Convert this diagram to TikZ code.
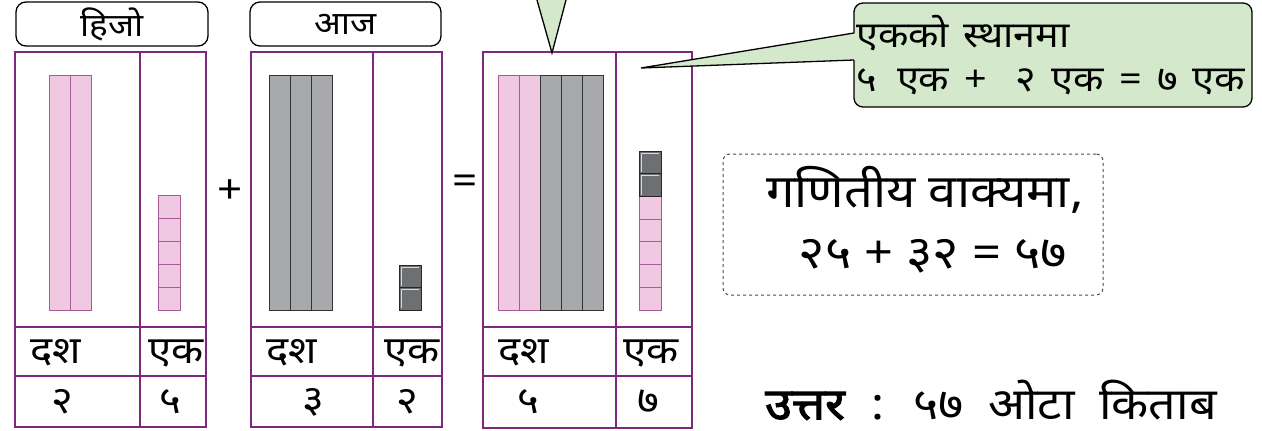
\documentclass[tikz,border=0pt]{standalone}
\usepackage{fontspec}
\setmainfont[Script=Devanagari, FakeStretch=1.1]{Noto Sans}
\newfontfamily\devbold[Script=Devanagari, FakeStretch=1.1, FakeBold=2.5]{Noto Sans}
\definecolor{frm}{RGB}{125,40,125}
\definecolor{pinkfill}{RGB}{240,200,225}
\definecolor{pinkedge}{RGB}{170,90,150}
\definecolor{rodgray}{RGB}{167,169,172}
\definecolor{cubegray}{RGB}{110,111,114}
\definecolor{callgreen}{RGB}{212,233,204}
\tikzset{
  frame/.style={draw=frm, line width=1.5pt},
  rowline/.style={draw=frm, line width=2pt},
  rodP/.style={draw=pinkedge, fill=pinkfill, line width=1pt},
  rodG/.style={draw=black!80, fill=rodgray, line width=1pt},
  cubeP/.style={draw=pinkedge, fill=pinkfill, line width=1pt},
  cubeG/.style={draw=black!85, fill=cubegray, line width=1pt},
  hdr/.style={draw=black, line width=1.3pt, rounded corners=10pt, inner sep=0pt, font=\fontsize{32}{36}\selectfont},
  cell/.style={inner sep=0pt, font=\fontsize{38}{42}\selectfont},
  sym/.style={inner sep=0pt, font=\fontsize{40}{44}\selectfont},
}
\begin{document}
\begin{tikzpicture}[x=1pt,y=-1pt]
\useasboundingbox (0,0) rectangle (1262,431);
% ---------- headers
\node[hdr, minimum width=192, minimum height=44] (h1) at (112,24) {हिजो};
\node[hdr, minimum width=191, minimum height=44] (h2) at (345.5,24) {आज};
% ---------- table 1
\draw[rodP] (49,75) rectangle (70,310);
\draw[rodP] (70,75) rectangle (91,310);
\foreach \i in {0,...,4} {\draw[cubeP] (158,{310-23*(\i+1)}) rectangle (180,{310-23*\i});}
\draw[frame] (15,52) rectangle (206,427);
\draw[frame] (140,52) -- (140,427);
\draw[rowline] (15,327) -- (206,327);
\draw[rowline] (15,376) -- (206,376);
\node[cell] (a1) at (56,353) {दश};
\node[cell] (a2) at (176,353) {एक};
\node[cell] (a3) at (62,402) {२};
\node[cell] (a4) at (170,402) {५};
% ---------- plus
\node[sym] (plus) at (230,192) {+};
% ---------- table 2
\foreach \i in {0,1,2} {\draw[rodG] ({269+21.33*\i},75) rectangle ({269+21.33*(\i+1)},310);}
\foreach \i in {0,1} {\draw[cubeG] (399,{310-22.5*(\i+1)}) rectangle (421,{310-22.5*\i});
  \draw[white!70!gray, line width=0.8pt] (401,{310-22.5*\i-2}) -- (401,{310-22.5*(\i+1)+2}) -- (419,{310-22.5*(\i+1)+2});}
\draw[frame] (251,52) rectangle (442,427);
\draw[frame] (373,52) -- (373,427);
\draw[rowline] (251,327) -- (442,327);
\draw[rowline] (251,376) -- (442,376);
\node[cell] (b1) at (292,353) {दश};
\node[cell] (b2) at (412,353) {एक};
\node[cell] (b3) at (313,402) {३};
\node[cell] (b4) at (407,402) {२};
% ---------- equals
\node[sym] (eq) at (465,185) {=};
% ---------- table 3
\foreach \i in {0,1} {\draw[rodP] ({498+21*\i},75) rectangle ({498+21*(\i+1)},310);}
\foreach \i in {2,3,4} {\draw[rodG] ({498+21*\i},75) rectangle ({498+21*(\i+1)},310);}
\foreach \i in {0,...,4} {\draw[cubeP] (639,{310-22.7*(\i+1)}) rectangle (661,{310-22.7*\i});}
\foreach \i in {5,6} {\draw[cubeG] (639,{310-22.7*(\i+1)}) rectangle (661,{310-22.7*\i});
  \draw[white!70!gray, line width=0.8pt] (641,{310-22.7*\i-2}) -- (641,{310-22.7*(\i+1)+2}) -- (659,{310-22.7*(\i+1)+2});}
\draw[frame] (483,52) rectangle (692,428);
\draw[frame] (616,52) -- (616,428);
\draw[rowline] (483,327) -- (692,327);
\draw[rowline] (483,376) -- (692,376);
\node[cell] (c1) at (524,353) {दश};
\node[cell] (c2) at (651,353) {एक};
\node[cell] (c3) at (528,402) {५};
\node[cell] (c4) at (648,402) {७};
% ---------- top tail (cut off)
\coordinate (tt) at (552,53);
\coordinate (tl) at (537,0);
\coordinate (tr) at (566,0);
\fill[callgreen] (tl) -- (tt) -- (tr) -- cycle;
\draw[line width=1.3pt, line join=miter] (tl) -- (tt) -- (tr);
% ---------- callout
\node[draw=black, line width=1.3pt, fill=callgreen, rounded corners=9pt, minimum width=398, minimum height=104, inner sep=0pt] (co) at (1053,55) {};
\coordinate (ctip) at (641,68);
\coordinate (cu) at (854,33);
\coordinate (cl) at (854,60);
\fill[callgreen] ([xshift=2pt]cu) -- (ctip) -- ([xshift=2pt]cl) -- cycle;
\draw[line width=1.3pt] (cu) -- (ctip) -- (cl);
\node[anchor=west, inner sep=0pt, font=\fontsize{36}{40}\selectfont] (co1) at (856,33) {एकको\hspace{4pt} स्थानमा};
\node[anchor=west, inner sep=0pt, font=\fontsize{36}{40}\selectfont] (co2) at (856,82) {५\hspace{10pt} एक\hspace{5pt} +\hspace{18pt} २\hspace{5pt} एक\hspace{5pt} =\hspace{5pt} ७\hspace{5pt} एक};
% ---------- dashed box
\node[draw=black!70, dashed, line width=1pt, rounded corners=7pt, minimum width=380, minimum height=141, inner sep=0pt] (db) at (913,224.5) {};
\node[inner sep=0pt, font=\fontsize{46}{50}\selectfont] (d1) at (925,190) {गणितीय वाक्यमा,};
\node[inner sep=0pt, font=\fontsize{46}{50}\selectfont] (d2) at (933,256) {२५ + ३२ = ५७};
% ---------- answer
\node[anchor=west, inner sep=0pt, font=\fontsize{44}{48}\selectfont] (ans) at (765,400) {{\devbold उत्तर}\hspace{14pt} :\hspace{12pt} ५७\hspace{12pt} ओटा\hspace{12pt} किताब};
\end{tikzpicture}
\end{document}
